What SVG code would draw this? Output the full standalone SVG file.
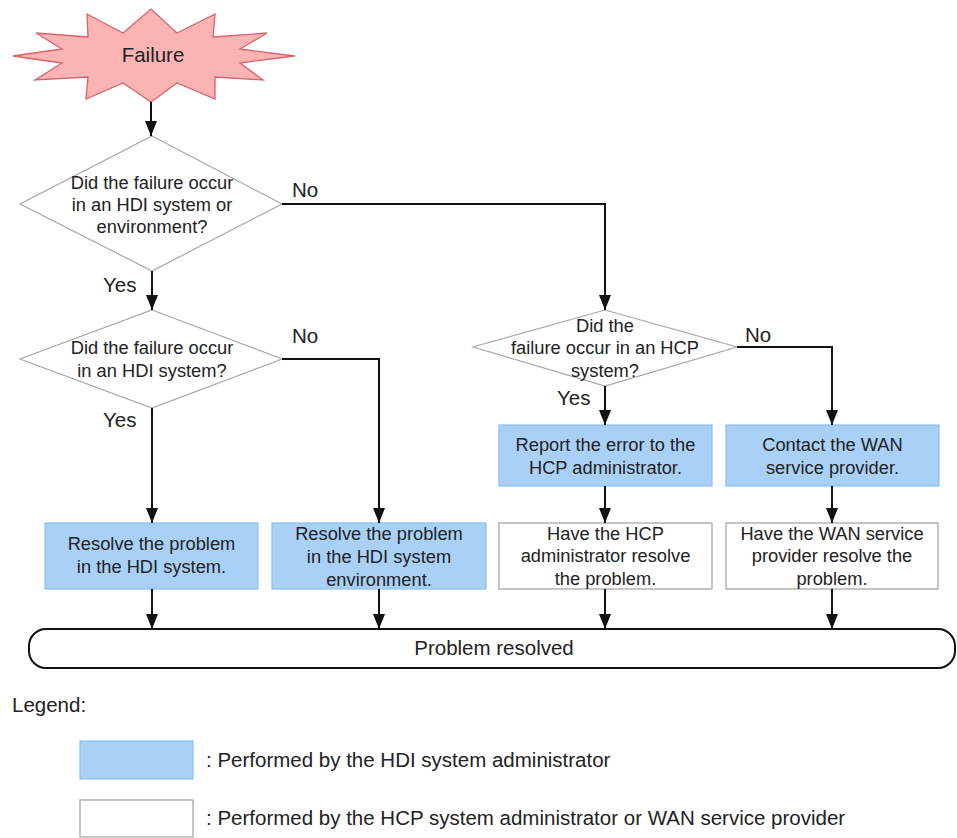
<svg xmlns="http://www.w3.org/2000/svg" width="957" height="838" viewBox="0 0 957 838">
<defs>
<style>
text{font-family:"Liberation Sans",Arial,sans-serif;fill:#222;}
.t{font-size:18.3px;text-anchor:middle;}
.lbl{font-size:20.5px;}
.big{font-size:20.5px;text-anchor:middle;}
.dia{fill:#fff;stroke:#a8a8a8;stroke-width:1.2;}
.blue{fill:#a9d1f8;stroke:#8cbff0;stroke-width:1.2;}
.white{fill:#fff;stroke:#a0a0a0;stroke-width:1.2;}
.conn{fill:none;stroke:#111;stroke-width:2;}
</style>
<marker id="arr" viewBox="0 0 15 12" markerWidth="15" markerHeight="12" markerUnits="userSpaceOnUse" refX="15" refY="6" orient="auto">
<path d="M0,0 L15,6 L0,12 z" fill="#111"/>
</marker>
</defs>
<rect width="957" height="838" fill="#fff"/>

<g id="failure">
<polygon points="13,56 62,49 36,33 88,37 87,14 123,33 151,9 177,33 215,14 213,37 267,33 240,49 295,56 240,63 263,80 215,77 215,99 177,83 151,102 123,83 86,99 88,77 35,80 62,63" fill="#fbb3b3" stroke="#d8626d" stroke-width="1.3"/>
<text class="big" x="153" y="62">Failure</text>
</g>

<g id="q1">
<polygon class="dia" points="152,136 282,204 152,271 20,204"/>
<text class="t" x="152" y="188.5">Did the failure occur</text>
<text class="t" x="152" y="210.5">in an HDI system or</text>
<text class="t" x="152" y="232.5">environment?</text>
</g>

<g id="q2">
<polygon class="dia" points="152,310 282,359 152,408 20,359"/>
<text class="t" x="152" y="354">Did the failure occur</text>
<text class="t" x="152" y="377">in an HDI system?</text>
</g>

<g id="q3">
<polygon class="dia" points="605,310 737,347 605,386 473,347"/>
<text class="t" x="605" y="331.5">Did the</text>
<text class="t" x="605" y="353.5">failure occur in an HCP</text>
<text class="t" x="605" y="376.5">system?</text>
</g>

<g id="report">
<rect class="blue" x="499" y="425" width="213" height="61"/>
<text class="t" x="605.5" y="451">Report the error to the</text>
<text class="t" x="605.5" y="473.5">HCP administrator.</text>
</g>

<g id="contact">
<rect class="blue" x="726" y="425" width="213" height="61"/>
<text class="t" x="832.5" y="451">Contact the WAN</text>
<text class="t" x="832.5" y="473.5">service provider.</text>
</g>

<g id="resolve-hdi">
<rect class="blue" x="45" y="523" width="213" height="66"/>
<text class="t" x="151.5" y="550">Resolve the problem</text>
<text class="t" x="151.5" y="573">in the HDI system.</text>
</g>

<g id="resolve-env">
<rect class="blue" x="272" y="523" width="214" height="66"/>
<text class="t" x="379" y="539.5">Resolve the problem</text>
<text class="t" x="379" y="562.5">in the HDI system</text>
<text class="t" x="379" y="585.5">environment.</text>
</g>

<g id="hcp-resolve">
<rect class="white" x="499" y="523" width="213" height="66"/>
<text class="t" x="605.5" y="539.5">Have the HCP</text>
<text class="t" x="605.5" y="562">administrator resolve</text>
<text class="t" x="605.5" y="584.5">the problem.</text>
</g>

<g id="wan-resolve">
<rect class="white" x="726" y="523" width="212" height="66"/>
<text class="t" x="832" y="539.5">Have the WAN service</text>
<text class="t" x="832" y="562">provider resolve the</text>
<text class="t" x="832" y="584.5">problem.</text>
</g>

<g id="resolved">
<rect x="29" y="629" width="926" height="39" rx="17" ry="17" fill="#fff" stroke="#111" stroke-width="2"/>
<text class="big" x="494" y="654.5">Problem resolved</text>
</g>

<g id="connectors">
<line class="conn" x1="151" y1="102" x2="151" y2="136" marker-end="url(#arr)"/>
<line class="conn" x1="152" y1="271" x2="152" y2="310" marker-end="url(#arr)"/>
<polyline class="conn" points="282,204 605,204 605,310" marker-end="url(#arr)"/>
<line class="conn" x1="152" y1="408" x2="152" y2="523" marker-end="url(#arr)"/>
<polyline class="conn" points="282,359 379,359 379,523" marker-end="url(#arr)"/>
<line class="conn" x1="605" y1="386" x2="605" y2="425" marker-end="url(#arr)"/>
<polyline class="conn" points="737,347 832,347 832,425" marker-end="url(#arr)"/>
<line class="conn" x1="605" y1="486" x2="605" y2="523" marker-end="url(#arr)"/>
<line class="conn" x1="832" y1="486" x2="832" y2="523" marker-end="url(#arr)"/>
<line class="conn" x1="152" y1="589" x2="152" y2="629" marker-end="url(#arr)"/>
<line class="conn" x1="379" y1="589" x2="379" y2="629" marker-end="url(#arr)"/>
<line class="conn" x1="605" y1="589" x2="605" y2="629" marker-end="url(#arr)"/>
<line class="conn" x1="832" y1="589" x2="832" y2="629" marker-end="url(#arr)"/>
<text class="lbl" x="292" y="197">No</text>
<text class="lbl" x="103" y="292">Yes</text>
<text class="lbl" x="292" y="343">No</text>
<text class="lbl" x="103" y="427">Yes</text>
<text class="lbl" x="745" y="341.5">No</text>
<text class="lbl" x="557" y="405">Yes</text>
</g>

<g id="legend">
<text class="lbl" x="12" y="711.5">Legend:</text>
<rect class="blue" x="80" y="741" width="113" height="38"/>
<text class="lbl" x="206" y="766.5">: Performed by the HDI system administrator</text>
<rect class="white" x="80" y="800" width="113" height="37"/>
<text class="lbl" x="206" y="825">: Performed by the HCP system administrator or WAN service provider</text>
</g>
</svg>
